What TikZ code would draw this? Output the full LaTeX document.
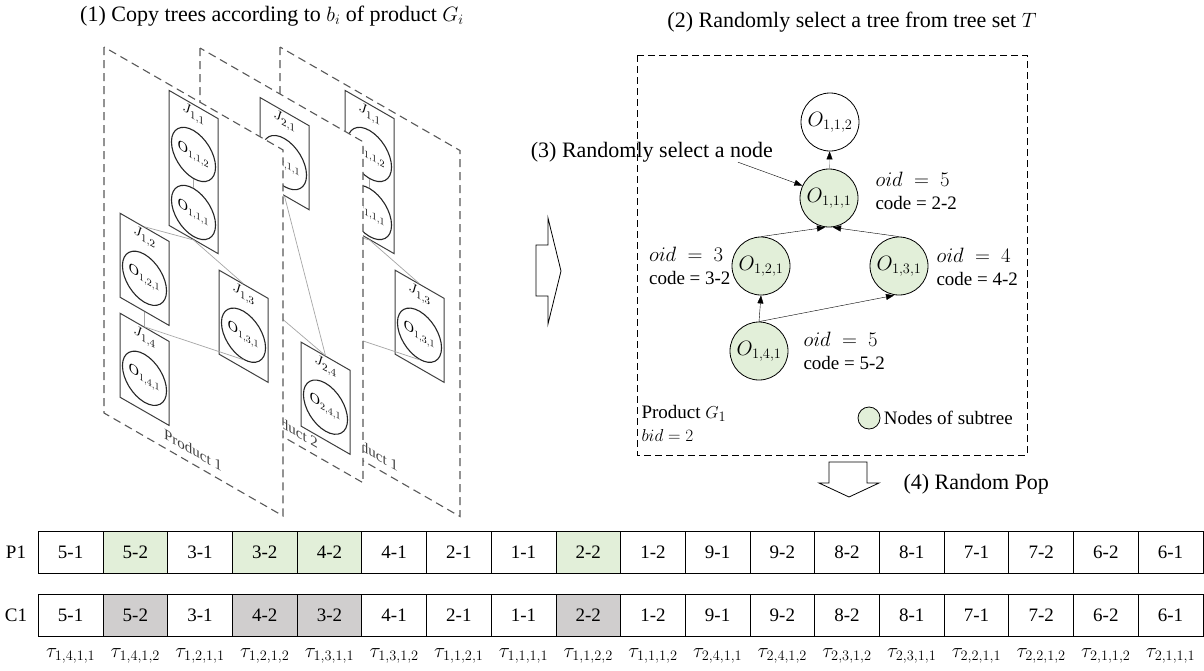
\documentclass[tikz,border=0pt]{standalone}
\usepackage{fontspec}
\setmainfont{Liberation Serif}
\usetikzlibrary{arrows.meta,shapes.geometric}
\definecolor{subgreen}{RGB}{226,239,217}
\definecolor{popgray}{RGB}{208,206,206}
\definecolor{boxgray}{RGB}{64,64,64}
\tikzset{
  pagesheet/.style={draw=black!65, dash pattern=on 8pt off 5pt, fill=white, line width=1.1pt},
  jbox/.style={draw=boxgray, line width=1pt, minimum width=49pt, minimum height=84pt, inner sep=0pt},
  jlab/.style={inner sep=0pt, font=\fontsize{15}{17}\selectfont},
  ptext/.style={inner sep=0pt, text=boxgray, font=\fontsize{15}{17}\selectfont},
  oell/.style={ellipse, draw=black!85, line width=1.1pt, minimum width=42pt, minimum height=48pt, inner sep=0pt, font=\fontsize{14}{16}\selectfont},
  treeedge/.style={draw=gray!70, line width=0.7pt},
  steplab/.style={font=\fontsize{22}{26}\selectfont},
  tnode/.style={circle, draw, line width=0.8pt, minimum size=58pt, inner sep=0pt, fill=subgreen, font=\fontsize{21}{23}\selectfont},
  cell/.style={draw, line width=0.8pt, minimum width=64.7pt, minimum height=42pt, inner sep=0pt},
  hollow/.style={draw, line width=0.8pt, line join=miter},
  tip/.style={-{Triangle[length=8pt,width=6pt,color=black]}}
}
\newcommand{\oidval}[1]{{\fontsize{22}{23}\selectfont$oid~=~#1$}}
\newcommand{\prodonetree}[1]{%
  \node[jbox, minimum height=135pt] (#1j11) at (89.5,73.5) {};
  \node[jlab] (#1l11) at (89.5,16) {$J_{1,1}$};
  \node[oell] (#1o112) at (89.5,56) {$\mathrm{O}_{1,1,2}$};
  \node[oell] (#1o111) at (89.5,114) {$\mathrm{O}_{1,1,1}$};
  \node[jbox] (#1j12) at (40.5,199) {};
  \node[jlab] (#1l12) at (40.5,167) {$J_{1,2}$};
  \node[oell] (#1o121) at (40.5,208) {$\mathrm{O}_{1,2,1}$};
  \node[jbox] (#1j13) at (139.5,199) {};
  \node[jlab] (#1l13) at (139.5,167) {$J_{1,3}$};
  \node[oell] (#1o131) at (139.5,208) {$\mathrm{O}_{1,3,1}$};
  \node[jbox] (#1j14) at (40.5,299) {};
  \node[jlab] (#1l14) at (40.5,267) {$J_{1,4}$};
  \node[oell] (#1o141) at (40.5,308) {$\mathrm{O}_{1,4,1}$};
  \draw[treeedge] (#1o112.south) -- (#1o111.north);
  \draw[treeedge] (#1j12.north) -- (#1j11.south);
  \draw[treeedge] (#1j13.north) -- (#1j11.south);
  \draw[treeedge] (#1j12.south) -- (#1j14.north);
  \draw[treeedge] (#1j14.north) -- (#1o131.south);
}

\begin{document}
\begin{tikzpicture}[x=1pt, y=-1pt, font=\fontsize{19}{23}\selectfont]
  \useasboundingbox (0,0) rectangle (1204,670);
  \node[steplab] (tone) at (272,16) {(1) Copy trees according to $b_i$ of product $G_i$};
  \node[steplab] (ttwo) at (852,22) {(2) Randomly select a tree from tree set $T$};

  % sheets, back to front
  \begin{scope}[shift={(280,47)}, yslant=-0.575, every node/.style={transform shape}]
    \draw[pagesheet] (0,0) rectangle (180,366);
    \prodonetree{c}
    \node[ptext] (ctext) at (89,352) {Product 1};
  \end{scope}
  \begin{scope}[shift={(200,48)}, yslant=-0.575, every node/.style={transform shape}]
    \draw[pagesheet] (0,0) rectangle (163,341);
    \node[jbox] (bj21) at (84.5,57) {};
    \node[jlab] (bl21) at (84.5,25) {$J_{2,1}$};
    \node[oell] (bo211) at (84.5,66) {$\mathrm{O}_{2,1,1}$};
    \node[jbox] (bj24) at (125.5,278) {};
    \node[jlab] (bl24) at (125.5,246) {$J_{2,4}$};
    \node[oell] (bo241) at (125.5,287) {$\mathrm{O}_{2,4,1}$};
    \coordinate (bhid) at (40,212);
    \draw[treeedge] (bj24.north) -- (bj21.south);
    \draw[treeedge] (bj24.north) -- (bhid);
    \node[ptext] (btext) at (89,328) {Product 2};
  \end{scope}
  \begin{scope}[shift={(104,47)}, yslant=-0.575, every node/.style={transform shape}]
    \draw[pagesheet] (0,0) rectangle (179,366);
    \prodonetree{a}
    \node[ptext] (atext) at (89,352) {Product 1};
  \end{scope}

  \draw[hollow] (536,245) -- (548,245) -- (548,218) -- (561,271) -- (548,324) -- (548,296) -- (536,296) -- cycle;

  % selected tree
  \draw[dash pattern=on 7pt off 4pt, line width=0.9pt] (637,55) rectangle (1027,455);
  \node[tnode, fill=white] (o112) at (830,122) {$O_{1,1,2}$};
  \node[tnode] (o111) at (829,198) {$O_{1,1,1}$};
  \node[tnode] (o121) at (761,266) {$O_{1,2,1}$};
  \node[tnode] (o131) at (899,266) {$O_{1,3,1}$};
  \node[tnode] (o141) at (759,351) {$O_{1,4,1}$};
  \draw[tip, gray] (o111) -- (o112);
  \draw[tip] (o121.north) -- ([xshift=-4pt]o111.south);
  \draw[tip] (o131.north) -- ([xshift=4pt]o111.south);
  \draw[tip] (o141.north) -- (o121.south);
  \draw[tip] (o141.north) -- ([xshift=-5pt]o131.south);
  \node[steplab, anchor=east, inner sep=0pt] (sel) at (773,152) {(3) Randomly select a node};
  \draw[tip] ([xshift=-35pt]sel.south east) -- (o111.155);
  \node[anchor=west, align=left] (lab111) at (872,191) {\oidval{5}\\code = 2-2};
  \node[anchor=east, align=left] (lab121) at (734,266) {\oidval{3}\\code = 3-2};
  \node[anchor=west, align=left] (lab131) at (933,267) {\oidval{4}\\code = 4-2};
  \node[anchor=west, align=left] (lab141) at (800,351) {\oidval{5}\\code = 5-2};
  \node[anchor=west, align=left] (prodg) at (638,423) {Product $G_1$\\$bid = 2$};
  \node[tnode, minimum size=22pt] (legc) at (869,418) {};
  \node[anchor=west] (legt) at (legc.east) {Nodes of subtree};

  \draw[hollow] (829,462) -- (867,462) -- (867,483) -- (879,483) -- (849,497) -- (819,483) -- (829,483) -- cycle;
  \node[steplab, anchor=west] (popl) at (900,484) {(4) Random Pop};

  % chromosomes
  \node (plab) at (16,552) {P1};
  \node (clab) at (16,615) {C1};
  \foreach \lbl/\fc [count=\i from 0] in {5-1/white,5-2/subgreen,3-1/white,3-2/subgreen,4-2/subgreen,4-1/white,2-1/white,1-1/white,2-2/subgreen,1-2/white,9-1/white,9-2/white,8-2/white,8-1/white,7-1/white,7-2/white,6-2/white,6-1/white}
    \node[cell, fill=\fc] (pc\i) at (70.65+64.7*\i,552) {\lbl};
  \foreach \lbl/\fc [count=\i from 0] in {5-1/white,5-2/popgray,3-1/white,4-2/popgray,3-2/popgray,4-1/white,2-1/white,1-1/white,2-2/popgray,1-2/white,9-1/white,9-2/white,8-2/white,8-1/white,7-1/white,7-2/white,6-2/white,6-1/white}
    \node[cell, fill=\fc] (cc\i) at (70.65+64.7*\i,615) {\lbl};
  \foreach \sub [count=\i from 0] in {{1,4,1,1},{1,4,1,2},{1,2,1,1},{1,2,1,2},{1,3,1,1},{1,3,1,2},{1,1,2,1},{1,1,1,1},{1,1,2,2},{1,1,1,2},{2,4,1,1},{2,4,1,2},{2,3,1,2},{2,3,1,1},{2,2,1,1},{2,2,1,2},{2,1,1,2},{2,1,1,1}}
    \node[font=\fontsize{21}{23}\selectfont] (tau\i) at (70.65+64.7*\i,656) {$\tau_{\sub}$};
\end{tikzpicture}
\end{document}
